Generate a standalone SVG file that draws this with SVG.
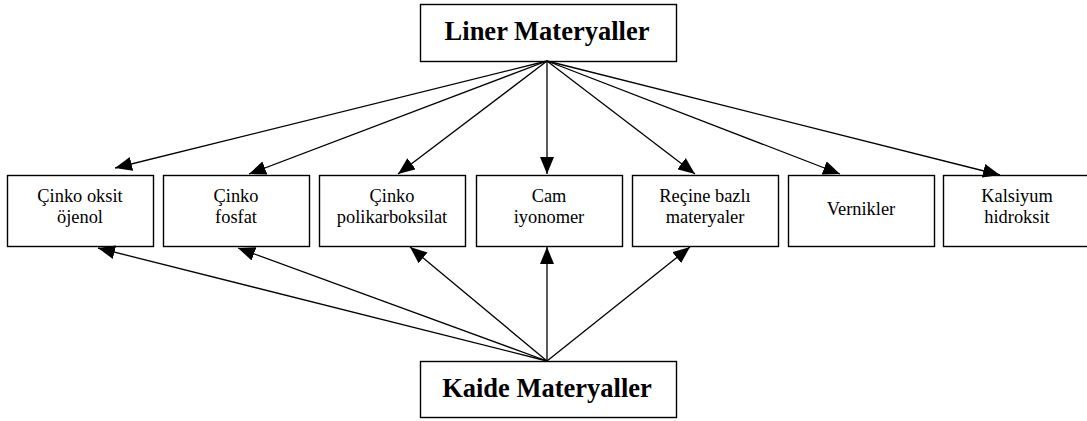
<svg xmlns="http://www.w3.org/2000/svg" width="1087" height="421" viewBox="0 0 1087 421">
<style>
.box{fill:#fff;stroke:#000;stroke-width:1.4}
.title{font-family:"Liberation Serif",serif;font-weight:bold;font-size:26.5px;text-anchor:middle;fill:#000}
.lbl{font-family:"Liberation Serif",serif;font-size:18.4px;text-anchor:middle;fill:#000}
.conn line{stroke:#000;stroke-width:1.3}
</style>
<defs>
<marker id="ah" markerUnits="userSpaceOnUse" markerWidth="18" markerHeight="14" refX="17" refY="7" orient="auto">
<path d="M0,0 L17,7 L0,14 z" fill="#000"/>
</marker>
</defs>
<rect width="1087" height="421" fill="#fff"/>
<g id="liner"><rect class="box" x="420.5" y="4.5" width="256" height="57"/><text class="title" x="547" y="40">Liner Materyaller</text></g>
<g id="kaide"><rect class="box" x="420.5" y="361.5" width="256" height="56"/><text class="title" x="547" y="397">Kaide Materyaller</text></g>
<g id="n1"><rect class="box" x="7.5" y="175.5" width="146" height="71"/><text class="lbl" x="80" y="202">Çinko oksit</text><text class="lbl" x="80" y="223">öjenol</text></g>
<g id="n2"><rect class="box" x="163.5" y="175.5" width="146" height="71"/><text class="lbl" x="236" y="202">Çinko</text><text class="lbl" x="236" y="223">fosfat</text></g>
<g id="n3"><rect class="box" x="319.5" y="175.5" width="146" height="71"/><text class="lbl" x="392" y="202">Çinko</text><text class="lbl" x="392" y="223">polikarboksilat</text></g>
<g id="n4"><rect class="box" x="476.5" y="175.5" width="146" height="71"/><text class="lbl" x="549" y="202">Cam</text><text class="lbl" x="549" y="223">iyonomer</text></g>
<g id="n5"><rect class="box" x="632.5" y="175.5" width="146" height="71"/><text class="lbl" x="705" y="202">Reçine bazlı</text><text class="lbl" x="705" y="223">materyaler</text></g>
<g id="n6"><rect class="box" x="788.5" y="175.5" width="146" height="71"/><text class="lbl" x="861" y="215">Vernikler</text></g>
<g id="n7"><rect class="box" x="943.5" y="175.5" width="146" height="71"/><text class="lbl" x="1017" y="202">Kalsiyum</text><text class="lbl" x="1017" y="223">hidroksit</text></g>
<g class="conn">
<line x1="547" y1="61" x2="115" y2="168" marker-end="url(#ah)"/>
<line x1="547" y1="61" x2="249" y2="174" marker-end="url(#ah)"/>
<line x1="547" y1="61" x2="398" y2="174" marker-end="url(#ah)"/>
<line x1="547" y1="61" x2="547" y2="174" marker-end="url(#ah)"/>
<line x1="547" y1="61" x2="695" y2="174" marker-end="url(#ah)"/>
<line x1="547" y1="61" x2="840" y2="174" marker-end="url(#ah)"/>
<line x1="547" y1="61" x2="1000" y2="175" marker-end="url(#ah)"/>
<line x1="547" y1="361" x2="98" y2="248" marker-end="url(#ah)"/>
<line x1="547" y1="361" x2="238" y2="248" marker-end="url(#ah)"/>
<line x1="547" y1="361" x2="410" y2="247" marker-end="url(#ah)"/>
<line x1="547" y1="361" x2="547" y2="247" marker-end="url(#ah)"/>
<line x1="547" y1="361" x2="690" y2="247" marker-end="url(#ah)"/>
</g>
</svg>
